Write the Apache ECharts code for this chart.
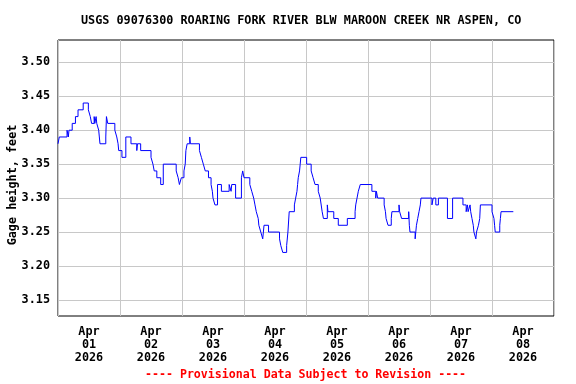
<!DOCTYPE html>
<html><head><meta charset="utf-8">
<script src="https://cdn.jsdelivr.net/npm/echarts@6/dist/echarts.min.js"></script>
<style>html,body{margin:0;padding:0;background:#fff}#c{width:576px;height:384px}</style>
</head><body><div id="c"></div>
<script>
const chartTitle = 'USGS 09076300 ROARING FORK RIVER BLW MAROON CREEK NR ASPEN, CO';
const footnote = '---- Provisional Data Subject to Revision ----';
const yAxisName = 'Gage height, feet';

// hours since Apr 01 2026 00:00 (local)
const hours = [0,0.5,3.5,4.0,4.25,5.5,6.75,7.75,9.75,11.75,12.5,13.0,14.0,14.25,14.75,15.0,15.75,16.0,16.25,18.5,18.75,19.25,22.0,22.75,23.25,23.5,24.75,26.25,28.25,30.5,30.75,32.0,36.0,36.75,37.25,38.25,39.75,40.75,45.75,46.5,47.0,47.75,48.75,49.25,49.5,50.0,51.0,51.25,54.75,55.5,56.25,57.0,58.25,59.25,59.75,60.0,60.75,61.75,63.25,66.25,67.0,67.25,68.75,71.0,71.5,72.0,74.25,75.0,75.75,76.25,76.75,77.5,77.75,78.5,79.25,79.75,81.5,85.75,86.25,87.0,88.5,89.0,89.5,91.5,92.0,92.5,92.75,93.0,93.5,93.75,94.0,96.25,98.0,98.75,99.5,100.75,101.5,102.25,102.75,104.25,104.5,106.75,108.5,112.0,115.0,115.25,115.75,116.25,117.0,121.5,123.0,123.25,123.75,126.25,126.75,127.0,127.75,129.0,129.25,132.0,132.25,133.0,135.75,136.0,136.25,138.25,138.5,138.75,139.25,139.75,140.25,140.5,144.75,145.25,146.25,147.25,150.75,152.75,156.75,158.0,158.5,158.75,159.5,159.75,160.25,160.75,161.0,161.75,162.0,162.75,163.25,163.5,168.0,168.75,169.0,169.25,171.0,171.25,171.5,176.25];
const gageHeight = [3.38,3.39,3.40,3.39,3.40,3.41,3.42,3.43,3.44,3.43,3.42,3.41,3.42,3.41,3.42,3.41,3.40,3.39,3.38,3.39,3.42,3.41,3.40,3.39,3.38,3.37,3.36,3.39,3.38,3.37,3.38,3.37,3.36,3.35,3.34,3.33,3.32,3.35,3.34,3.33,3.32,3.33,3.34,3.35,3.37,3.38,3.39,3.38,3.37,3.36,3.35,3.34,3.33,3.32,3.31,3.30,3.29,3.32,3.31,3.32,3.31,3.32,3.30,3.33,3.34,3.33,3.32,3.31,3.30,3.29,3.28,3.27,3.26,3.25,3.24,3.26,3.25,3.24,3.23,3.22,3.23,3.25,3.28,3.29,3.30,3.31,3.32,3.33,3.34,3.35,3.36,3.35,3.34,3.33,3.32,3.31,3.30,3.28,3.27,3.29,3.28,3.27,3.26,3.27,3.28,3.29,3.30,3.31,3.32,3.31,3.30,3.31,3.30,3.29,3.28,3.27,3.26,3.27,3.28,3.29,3.28,3.27,3.28,3.26,3.25,3.24,3.25,3.26,3.27,3.28,3.29,3.30,3.29,3.30,3.29,3.30,3.27,3.30,3.29,3.28,3.29,3.28,3.29,3.28,3.27,3.26,3.25,3.24,3.25,3.26,3.27,3.29,3.28,3.27,3.26,3.25,3.26,3.27,3.28,3.28];

const dayBoundaryHours = [0,24,48,72,96,120,144,168,192];
const dayLabelHours = [12,36,60,84,108,132,156,180];
const dayLabels = ['Apr\n01\n2026','Apr\n02\n2026','Apr\n03\n2026','Apr\n04\n2026','Apr\n05\n2026','Apr\n06\n2026','Apr\n07\n2026','Apr\n08\n2026'];
const yTicks = [3.15,3.20,3.25,3.30,3.35,3.40,3.45,3.50];

const FONT = '"DejaVu Sans Mono", monospace';
const FS = 11.8;
const chart = echarts.init(document.getElementById('c'), null, {renderer:'canvas'});
chart.setOption({
  animation: false,
  backgroundColor: '#fff',
  title: [
    {text: chartTitle, left: 81, top: 15, padding: 0, textStyle: {fontFamily: FONT, fontSize: FS, fontWeight: 'bold', color: '#000'}},
    {text: footnote, left: 145, top: 369, padding: 0, textStyle: {fontFamily: FONT, fontSize: 11.6, fontWeight: 'bold', color: '#ff0000'}}
  ],
  grid: {left: 58, right: 22, top: 40, bottom: 68, outerBoundsMode: 'none', containLabel: false,
         show: true, borderColor: '#000', borderWidth: 1, backgroundColor: 'transparent'},
  xAxis: {
    type: 'value', min: 0, max: 192,
    axisLine: {show: false},
    axisTick: {show: false, customValues: dayBoundaryHours},
    splitLine: {show: true, lineStyle: {color: '#c8c8c8', width: 1}},
    axisLabel: {
      customValues: dayLabelHours,
      margin: 9,
      fontFamily: FONT, fontSize: FS, fontWeight: 'bold', color: '#000', lineHeight: 13,
      formatter: v => dayLabels[dayLabelHours.indexOf(v)] || ''
    }
  },
  yAxis: {
    type: 'value', min: 3.1264, max: 3.5328,
    name: yAxisName, nameLocation: 'middle', nameGap: 39, nameMoveOverlap: false,
    nameTextStyle: {fontFamily: FONT, fontSize: FS, fontWeight: 'bold', color: '#000', padding: [0, 14, 0, 0]},
    axisLine: {show: false},
    axisTick: {show: false, customValues: yTicks},
    splitLine: {show: true, lineStyle: {color: '#c8c8c8', width: 1}},
    axisLabel: {
      customValues: yTicks, margin: 8,
      fontFamily: FONT, fontSize: FS, fontWeight: 'bold', color: '#000',
      formatter: v => v.toFixed(2)
    }
  },
  series: [{
    type: 'line', step: 'end', symbol: 'none',
    lineStyle: {color: '#0000ff', width: 1},
    data: hours.map((h, i) => [h, gageHeight[i]])
  }]
});
</script></body></html>
